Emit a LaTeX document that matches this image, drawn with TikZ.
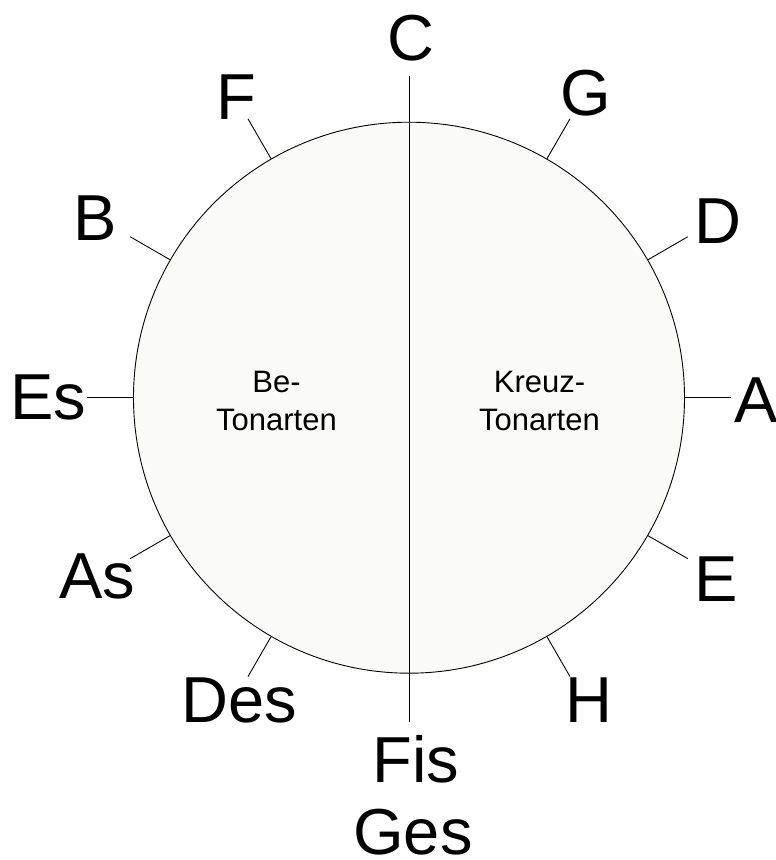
\documentclass[tikz,border=0pt]{standalone}
\usepackage{fontspec}
\setmainfont{Liberation Sans}
\definecolor{wheelfill}{RGB}{251,251,249}
\begin{document}
\begin{tikzpicture}[x=1pt,y=1pt,line width=0.9pt,
  key/.style={font=\fontsize{65}{74}\selectfont,inner sep=0pt},
  side/.style={font=\fontsize{31}{38.4}\selectfont,inner sep=0pt,align=center,anchor=north},
  wheel/.style={circle,draw,fill=wheelfill,minimum size=551pt,inner sep=0pt}]
\useasboundingbox (-409,397.7) rectangle (367,-462.3);
\node[wheel] (circ) at (0,0) {};
\foreach \a in {0,30,60,120,150,180,210,240,300,330}{
  \coordinate (t\a) at (\a:322);
  \draw (circ.\a) -- (t\a);
}
\coordinate (top) at (90:322);
\coordinate (bot) at (270:324.5);
\draw (top) -- (bot);
\node[side] (be) at (-132.5,27) {Be-\\Tonarten};
\node[side] (kr) at (130.5,27) {Kreuz-\\Tonarten};
\node[key] (nC) at (1.5,359.5) {C};
\node[key] (nG) at (177,305) {G};
\node[key] (nD) at (309,177) {D};
\node[key] (nA) at (347,-2) {A};
\node[key] (nE) at (307,-181) {E};
\node[key] (nH) at (180,-302) {H};
\node[key] (nFis) at (7,-362) {Fis};
\node[key] (nGes) at (4,-434) {Ges};
\node[key] (nDes) at (-170,-303) {Des};
\node[key] (nAs) at (-312,-179) {As};
\node[key] (nEs) at (-361,0) {Es};
\node[key] (nB) at (-314,180) {B};
\node[key] (nF) at (-173,301) {F};
\end{tikzpicture}
\end{document}
